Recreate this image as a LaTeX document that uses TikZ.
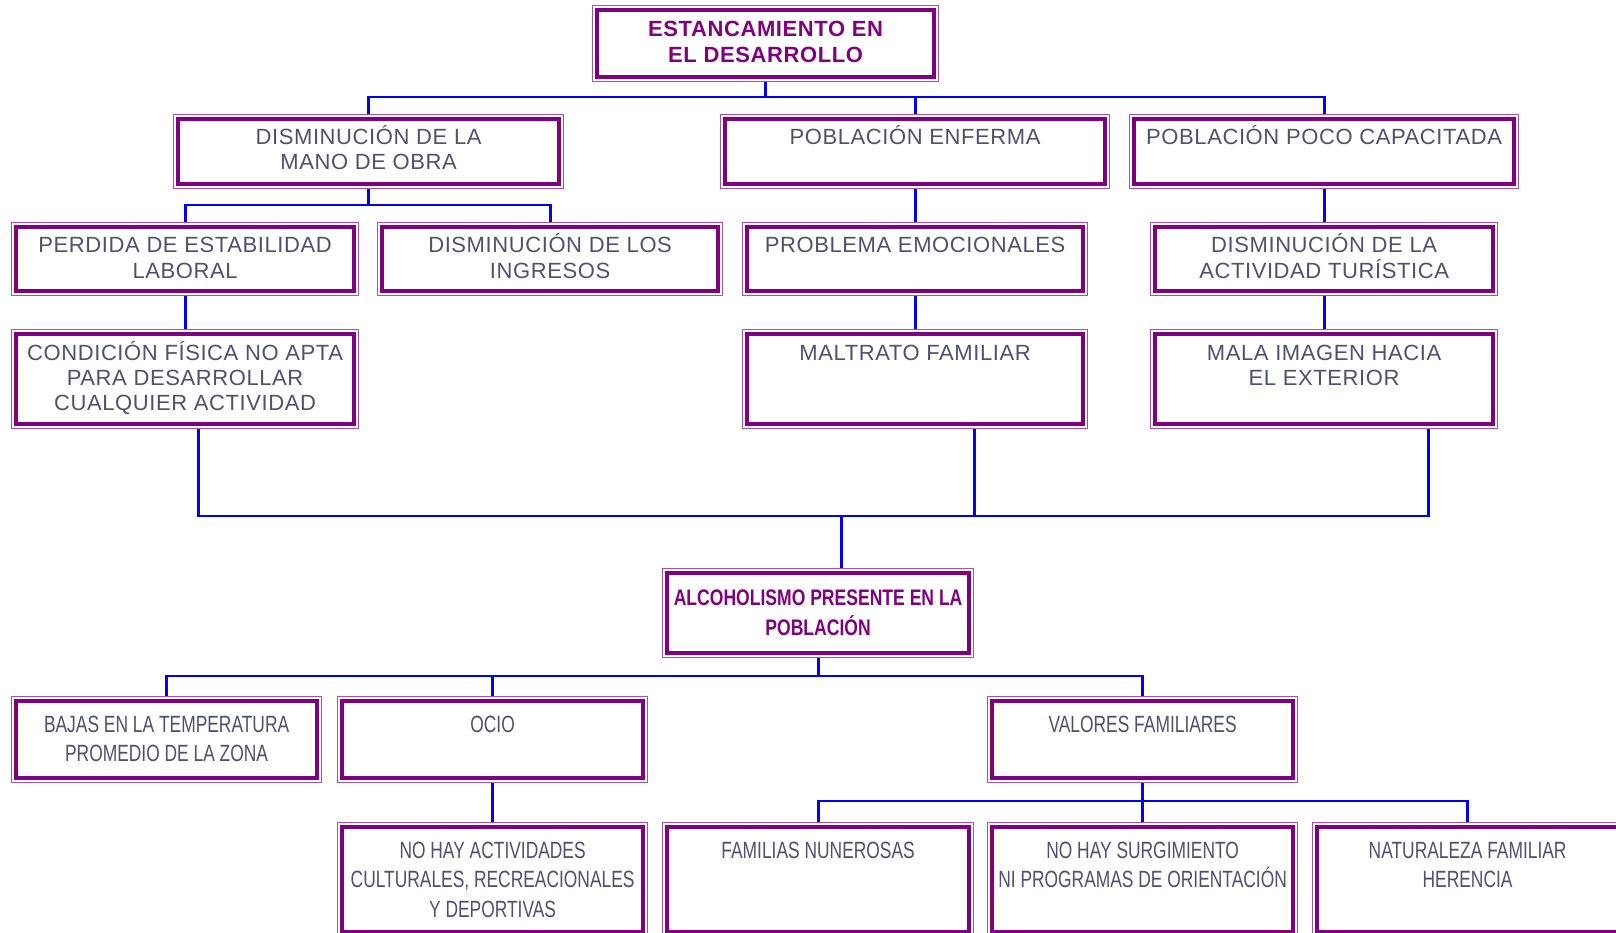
\documentclass[tikz,border=0pt]{standalone}
\usepackage{fontspec}
\usepackage{tikz}
\usetikzlibrary{positioning}
\setmainfont{Liberation Sans}[LetterSpace=2.7]
\newfontfamily\angosta{Liberation Sans}[FakeStretch=0.74]
\newfontfamily\angostab{Liberation Sans}[FakeStretch=0.78]
\definecolor{morado}{RGB}{128,0,128}
\definecolor{moradoclaro}{RGB}{170,80,170}
\definecolor{gristexto}{RGB}{80,80,112}
\definecolor{azul}{RGB}{0,0,255}

\begin{document}
\begin{tikzpicture}[
    x=1pt, y=-1pt,
    caja/.style={draw=moradoclaro, line width=1.2pt, fill=white, anchor=north west,
        path picture={\draw[morado, line width=3.6pt]
            ([shift={(4.6pt,4.6pt)}]path picture bounding box.south west) rectangle
            ([shift={(-4.6pt,-4.6pt)}]path picture bounding box.north east);}},
    texto/.style={font=\fontsize{22}{25}\selectfont, text=gristexto, align=center, anchor=base, inner sep=0pt},
    titulo/.style={font=\fontsize{22}{26}\selectfont\bfseries, text=morado, align=center, anchor=base, inner sep=0pt},
    narrow/.style={font=\angosta\fontsize{23.5}{29.5}\selectfont, text=gristexto, align=center, anchor=base, inner sep=0pt},
    narrowb/.style={font=\angostab\fontsize{22.5}{30}\selectfont\bfseries, text=morado, align=center, anchor=base, inner sep=0pt},
    linea/.style={draw=azul, line width=2.9pt},
]
\useasboundingbox (0,0) rectangle (1616,933);

% Top problem
\node[caja, minimum width=346pt, minimum height=76pt] (estanc) at (592,5) {};
\node[titulo] (estanc-t) at ([yshift=-58pt]estanc.north) {ESTANCAMIENTO EN\\EL DESARROLLO};

% First level
\node[caja, minimum width=390pt, minimum height=74pt] (mano) at (173,114) {};
\node[texto] (mano-t) at ([yshift=-56pt]mano.north) {DISMINUCIÓN DE LA\\MANO DE OBRA};

\node[caja, minimum width=389pt, minimum height=74pt] (enferma) at (720,114) {};
\node[texto] (enferma-t) at ([yshift=-31pt]enferma.north) {POBLACIÓN ENFERMA};

\node[caja, minimum width=389pt, minimum height=74pt] (capacitada) at (1129,114) {};
\node[texto] (capacitada-t) at ([yshift=-31pt]capacitada.north) {POBLACIÓN POCO CAPACITADA};

% Second level
\node[caja, minimum width=347pt, minimum height=73pt] (perdida) at (11,222) {};
\node[texto] (perdida-t) at ([yshift=-56pt]perdida.north) {PERDIDA DE ESTABILIDAD\\LABORAL};

\node[caja, minimum width=345pt, minimum height=73pt] (ingresos) at (377,222) {};
\node[texto] (ingresos-t) at ([yshift=-56pt]ingresos.north) {DISMINUCIÓN DE LOS\\INGRESOS};

\node[caja, minimum width=345pt, minimum height=73pt] (emocion) at (742,222) {};
\node[texto] (emocion-t) at ([yshift=-31pt]emocion.north) {PROBLEMA EMOCIONALES};

\node[caja, minimum width=347pt, minimum height=73pt] (turismo) at (1150,222) {};
\node[texto] (turismo-t) at ([yshift=-56pt]turismo.north) {DISMINUCIÓN DE LA\\ACTIVIDAD TURÍSTICA};

% Third level
\node[caja, minimum width=347pt, minimum height=99pt] (condicion) at (11,329) {};
\node[texto] (condicion-t) at ([yshift=-81pt]condicion.north) {CONDICIÓN FÍSICA NO APTA\\PARA DESARROLLAR\\CUALQUIER ACTIVIDAD};

\node[caja, minimum width=345pt, minimum height=99pt] (maltrato) at (742,329) {};
\node[texto] (maltrato-t) at ([yshift=-31pt]maltrato.north) {MALTRATO FAMILIAR};

\node[caja, minimum width=347pt, minimum height=99pt] (imagen) at (1150,329) {};
\node[texto] (imagen-t) at ([yshift=-56pt]imagen.north) {MALA IMAGEN HACIA\\EL EXTERIOR};

% Central problem
\node[caja, minimum width=311pt, minimum height=89pt] (alcohol) at (662,568) {};
\node[narrowb] (alcohol-t) at ([yshift=-67pt]alcohol.north) {ALCOHOLISMO PRESENTE EN LA\\POBLACIÓN};

% Causes
\node[caja, minimum width=310pt, minimum height=86pt] (bajas) at (11,696) {};
\node[narrow] (bajas-t) at ([yshift=-65.5pt]bajas.north) {BAJAS EN LA TEMPERATURA\\PROMEDIO DE LA ZONA};

\node[caja, minimum width=310pt, minimum height=86pt] (ocio) at (337,696) {};
\node[narrow] (ocio-t) at ([yshift=-36pt]ocio.north) {OCIO};

\node[caja, minimum width=310pt, minimum height=86pt] (valores) at (987,696) {};
\node[narrow] (valores-t) at ([yshift=-36pt]valores.north) {VALORES FAMILIARES};

% Last row (cut by the page)
\node[caja, minimum width=310pt, minimum height=114pt] (activ) at (337,822) {};
\node[narrow] (activ-t) at ([yshift=-95pt]activ.north) {NO HAY ACTIVIDADES\\CULTURALES, RECREACIONALES\\Y DEPORTIVAS};

\node[caja, minimum width=311pt, minimum height=114pt] (familias) at (662,822) {};
\node[narrow] (familias-t) at ([yshift=-36pt]familias.north) {FAMILIAS NUNEROSAS};

\node[caja, minimum width=310pt, minimum height=114pt] (surgim) at (987,822) {};
\node[narrow] (surgim-t) at ([yshift=-65.5pt]surgim.north) {NO HAY SURGIMIENTO\\NI PROGRAMAS DE ORIENTACIÓN};

\node[caja, minimum width=310pt, minimum height=114pt] (herencia) at (1312,822) {};
\node[narrow] (herencia-t) at ([yshift=-65.5pt]herencia.north) {NATURALEZA FAMILIAR\\HERENCIA};

% Bus lines
\coordinate (b1) at (0,97);
\coordinate (b2) at (0,205);
\coordinate (b3) at (0,516);
\coordinate (b4) at (0,676);
\coordinate (b5) at (0,801);

% Connectors
\draw[linea] (estanc.south) -- (estanc.south |- b1);
\draw[linea] (mano.north) |- (capacitada.north |- b1) -- (capacitada.north);
\draw[linea] (enferma.north) -- (enferma.north |- b1);

\draw[linea] (mano.south) -- (mano.south |- b2);
\draw[linea] (perdida.north) |- (ingresos.north |- b2) -- (ingresos.north);
\draw[linea] (enferma.south) -- (emocion.north);
\draw[linea] (capacitada.south) -- (turismo.north);

\draw[linea] (perdida.south) -- (condicion.north);
\draw[linea] (emocion.south) -- (maltrato.north);
\draw[linea] (turismo.south) -- (imagen.north);

\draw[linea] ([xshift=13.5pt]condicion.south) |- ([xshift=104.5pt]imagen.south |- b3) -- ([xshift=104.5pt]imagen.south);
\draw[linea] ([xshift=59.5pt]maltrato.south) -- ([xshift=59.5pt]maltrato.south |- b3);
\draw[linea] ([xshift=23.5pt]alcohol.north |- b3) -- ([xshift=23.5pt]alcohol.north);

\draw[linea] (alcohol.south) -- (alcohol.south |- b4);
\draw[linea] (bajas.north) |- (valores.north |- b4) -- (valores.north);
\draw[linea] (ocio.north) -- (ocio.north |- b4);

\draw[linea] (ocio.south) -- (activ.north);
\draw[linea] (valores.south) -- (surgim.north);
\draw[linea] (familias.north) |- (herencia.north |- b5) -- (herencia.north);

\end{tikzpicture}
\end{document}
